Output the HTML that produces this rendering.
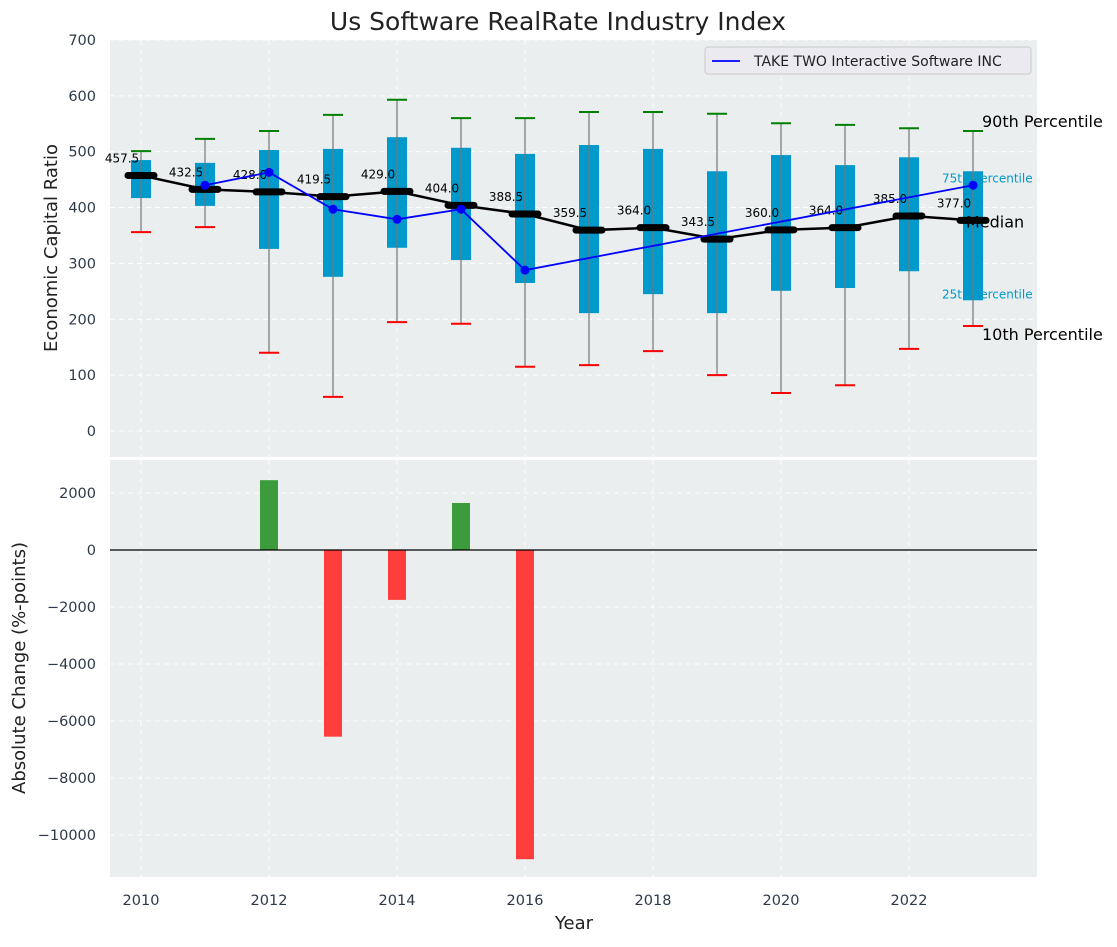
<!DOCTYPE html>
<html><head><meta charset="utf-8"><style>
body{margin:0;background:#fff;font-family:"Liberation Sans","DejaVu Sans",sans-serif}
svg text{font-family:"DejaVu Sans","Liberation Sans",sans-serif}
</style></head><body>
<svg id="c" width="1117" height="942" xmlns="http://www.w3.org/2000/svg"></svg>
<script>
const years=[2010,2011,2012,2013,2014,2015,2016,2017,2018,2019,2020,2021,2022,2023];
const p90=[501,523,537,566,593,560,560,571,571,568,551,548,542,537];
const q75=[485,480,503,505,526,507,496,512,505,465,494,476,490,465];
const q25=[417,403,326,276,328,306,265,211,245,211,251,256,286,234];
const p10=[356,365,140,61,195,192,115,118,143,100,68,82,147,188];
const medians=[457.5,432.5,428.0,419.5,429.0,404.0,388.5,359.5,364.0,343.5,360.0,364.0,385.0,377.0];
const companyYears=[2011,2012,2013,2014,2015,2016,2023];
const companyVals=[440,463,397,379,397,288,440];
const changeYears=[2012,2013,2014,2015,2016];
const changeVals=[2450,-6550,-1750,1650,-10850];
const yTicksTop=[0,100,200,300,400,500,600,700];
const yTicksBot=[2000,0,-2000,-4000,-6000,-8000,-10000];
const xTicks=[2010,2012,2014,2016,2018,2020,2022];

const svg=document.getElementById('c');const NS='http://www.w3.org/2000/svg';
function el(t,a,txt){const e=document.createElementNS(NS,t);for(const k in a)e.setAttribute(k,a[k]);if(txt!==undefined)e.textContent=txt;svg.appendChild(e);return e;}
const X=y=>141+(y-2010)*64;
const YT=v=>431-v*0.5586;
const YB=v=>550-v*0.0285;
const L=110,R=1037;
let e;
e=el('rect',{x:L,y:40,width:R-L,height:417,fill:'#eaeeee'});


e=el('rect',{x:L,y:460,width:R-L,height:417,fill:'#eaeeee'});


xTicks.forEach(t=>{
 el('line',{x1:X(t),x2:X(t),y1:40,y2:457,stroke:'#fff','stroke-dasharray':'5,4','stroke-width':1});
 el('line',{x1:X(t),x2:X(t),y1:460,y2:877,stroke:'#fff','stroke-dasharray':'5,4','stroke-width':1});
 e=el('text',{x:X(t),y:905,'font-size':14.5,fill:'#2e3a4a','text-anchor':'middle'},t);
 
 
});
yTicksTop.forEach(t=>{
 el('line',{x1:L,x2:R,y1:YT(t),y2:YT(t),stroke:'#fff','stroke-dasharray':'5,4'});
 e=el('text',{x:96,y:YT(t)+5,'font-size':14.5,fill:'#2e3a4a','text-anchor':'end'},t);
 
 
});
yTicksBot.forEach(t=>{
 el('line',{x1:L,x2:R,y1:YB(t),y2:YB(t),stroke:'#fff','stroke-dasharray':'5,4'});
 e=el('text',{x:96,y:YB(t)+5,'font-size':14.5,fill:'#2e3a4a','text-anchor':'end'},t<0?'\u2212'+(-t):t);
 
 
});
const last=years.length-1;
// small percentile labels drawn beneath boxes
[['75th Percentile',942,YT(q75[last])+11,12,'#0099cc'],['25th Percentile',942,YT(q25[last])-2,12,'#0099cc']].forEach(a=>{
 e=el('text',{x:a[1],y:a[2],'font-size':a[3],fill:a[4]},a[0]);
 
 
});
years.forEach((y,i)=>{
 const x=X(y);
 e=el('rect',{x:x-10,y:YT(q75[i]),width:20,height:YT(q25[i])-YT(q75[i]),fill:'#0099cc'});
 
 
 e=el('line',{x1:x,x2:x,y1:YT(p90[i]),y2:YT(p10[i]),stroke:'#777','stroke-width':1.2});
 
 
 e=el('line',{x1:x-10,x2:x+10,y1:YT(p90[i]),y2:YT(p90[i]),stroke:'green','stroke-width':2});
 
 
 e=el('line',{x1:x-10,x2:x+10,y1:YT(p10[i]),y2:YT(p10[i]),stroke:'red','stroke-width':2});
 
 
});
e=el('polyline',{points:years.map((y,i)=>X(y)+','+YT(medians[i])).join(' '),fill:'none',stroke:'#000','stroke-width':2.5});


years.forEach((y,i)=>{
 e=el('line',{x1:X(y)-13,x2:X(y)+13,y1:YT(medians[i]),y2:YT(medians[i]),stroke:'#000','stroke-width':7,'stroke-linecap':'round'});
 
 
 e=el('text',{x:X(y)-19,y:YT(medians[i])-13,'font-size':12,fill:'#000','text-anchor':'middle'},medians[i].toFixed(1));
 
 
});
e=el('polyline',{points:companyYears.map((y,i)=>X(y)+','+YT(companyVals[i])).join(' '),fill:'none',stroke:'#0000ff','stroke-width':1.8});


companyYears.forEach((y,i)=>{
 e=el('circle',{cx:X(y),cy:YT(companyVals[i]),r:4.5,fill:'#0000ff'});
 
 
});
[['90th Percentile',982,YT(p90[last])-4,16,'#000'],['Median',966,YT(medians[last])+7,16,'#000'],['10th Percentile',982,YT(p10[last])+14,16,'#000']].forEach(a=>{
 e=el('text',{x:a[1],y:a[2],'font-size':a[3],fill:a[4]},a[0]);
 
 
});
changeYears.forEach((y,i)=>{
 const v=changeVals[i];
 e=el('rect',{x:X(y)-9,y:Math.min(YB(0),YB(v)),width:18,height:Math.abs(YB(v)-YB(0)),fill:v>=0?'#3c9c3c':'#ff3d3d'});
 
 
});
e=el('line',{x1:L,x2:R,y1:YB(0),y2:YB(0),stroke:'#000','stroke-width':1.2});


e=el('rect',{x:705,y:47,width:326,height:27,rx:3,fill:'#eaeaf0',stroke:'#ccc'});


el('line',{x1:712,x2:740,y1:61,y2:61,stroke:'#0000ff','stroke-width':1.8});
e=el('text',{x:754,y:66,'font-size':14,fill:'#222'},'TAKE TWO Interactive Software INC');


e=el('text',{x:558,y:30,'font-size':25,fill:'#222','text-anchor':'middle'},'Us Software RealRate Industry Index');


e=el('text',{x:574,y:929,'font-size':18,fill:'#222','text-anchor':'middle'},'Year');


e=el('text',{x:0,y:0,'font-size':18,fill:'#222','text-anchor':'middle',transform:'translate(57,248) rotate(-90)'},'Economic Capital Ratio');


e=el('text',{x:0,y:0,'font-size':18,fill:'#222','text-anchor':'middle',transform:'translate(25,668) rotate(-90)'},'Absolute Change (%-points)');


</script>
</body></html>
